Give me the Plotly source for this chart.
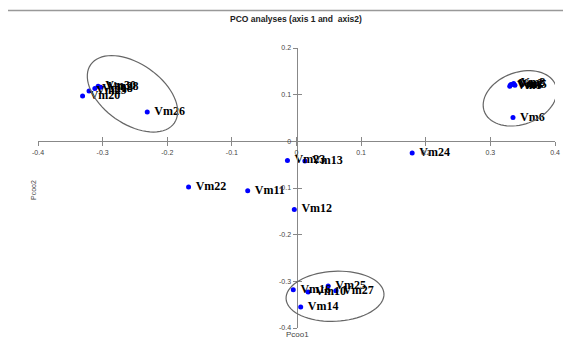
import math
import plotly.graph_objects as go

# ---------------- data ----------------
labels = ["Vm20", "Vm29", "Vm30", "Vm28", "Vm18", "Vm26",
          "Vm1", "Vm2", "Vm3", "Vm4", "Vm5", "Vm6",
          "Vm23", "Vm13", "Vm24", "Vm22", "Vm11", "Vm12",
          "Vm16", "Vm10", "Vm25", "Vm27", "Vm14"]
pco1 = [-0.331, -0.321, -0.307, -0.303, -0.312, -0.231,
        0.330, 0.333, 0.336, 0.331, 0.338, 0.335,
        -0.014, 0.013, 0.179, -0.167, -0.0755, -0.0034,
        -0.005, 0.018, 0.049, 0.061, 0.0065]
pco2 = [0.097, 0.108, 0.118, 0.116, 0.113, 0.063,
        0.118, 0.122, 0.124, 0.121, 0.120, 0.051,
        -0.041, -0.042, -0.025, -0.098, -0.106, -0.146,
        -0.318, -0.323, -0.310, -0.320, -0.355]

x_ticks = [-0.4, -0.3, -0.2, -0.1, 0, 0.1, 0.2, 0.3, 0.4]
x_tick_text = ["-0.4", "-0.3", "-0.2", "-0.1", "0", "0.1", "0.2", "0.3", "0.4"]
y_ticks = [-0.4, -0.3, -0.2, -0.1, 0, 0.1, 0.2]
y_tick_text = ["-0.4", "-0.3", "-0.2", "-0.1", "0", "0.1", "0.2"]

title_text = "PCO analyses (axis 1 and \u00a0axis2)"
x_title = "Pcoo1"
y_title = "Pcoo2"

# ---------------- layout geometry ----------------
W, H = 571, 338
OFF = 8  # page body offset of the rendered figure
# target plot area in screen pixels: x 38..555, y 48..328
ML = 38 - OFF
MT = 48 - OFF
MR = W - (555 - OFF)
MB = H - (328 - OFF)
XR = [-0.4, 0.4]
YR = [-0.4, 0.2]
pw = W - ML - MR
ph = H - MT - MB
sx = pw / (XR[1] - XR[0])
sy = ph / (YR[1] - YR[0])
x_axis_pos = (0 - YR[0]) / (YR[1] - YR[0])
y_axis_pos = (0 - XR[0]) / (XR[1] - XR[0])


def px_to_paper_x(p):
    return (p - OFF - ML) / pw


def px_to_paper_y(q):
    return (H - MB - (q - OFF)) / ph


# group ellipses: centre (data), semi-axes (px), angle (deg, screen ccw)
ellipses = [
    (-0.2538, 0.1018, 51, 30, -35),
    (0.3458, 0.0921, 38, 26, 20),
    (0.0596, -0.332, 49, 25, 3),
]


def ellipse_path(cx, cy, a, b, ang, n=72):
    t = math.radians(ang)
    pts = []
    for i in range(n):
        p = 2 * math.pi * i / n
        dx = (a * math.cos(p) * math.cos(t) - b * math.sin(p) * math.sin(t)) / sx
        dy = (a * math.cos(p) * math.sin(t) + b * math.sin(p) * math.cos(t)) / sy
        pts.append((cx + dx, cy + dy))
    d = "M %f,%f " % pts[0] + " ".join("L %f,%f" % q for q in pts[1:]) + " Z"
    return d


fig = go.Figure()
fig.add_trace(go.Scatter(
    x=pco1, y=pco2, mode="markers+text",
    text=["\u00a0" + s for s in labels],
    textposition="middle right",
    textfont=dict(family="Liberation Serif", size=12, color="black", weight="bold"),
    marker=dict(color="#0000FF", size=5),
    cliponaxis=False, showlegend=False, hoverinfo="skip",
))
# dummy trace for the overlay axes (inner half of cross ticks)
fig.add_trace(go.Scatter(x=[None], y=[None], xaxis="x2", yaxis="y2",
                         showlegend=False, hoverinfo="skip"))

axis_common = dict(showgrid=False, zeroline=False, automargin=False)
tickfont = dict(family="Liberation Sans", size=7, color="#444444")

fig.update_layout(
    width=W, height=H,
    margin=dict(l=ML, r=MR, t=MT, b=MB, autoexpand=False),
    paper_bgcolor="white", plot_bgcolor="white",
    xaxis=dict(range=XR, anchor="free", position=x_axis_pos,
               tickvals=x_ticks, ticktext=x_tick_text, tickfont=tickfont,
               ticks="outside", ticklen=4, tickcolor="#888888",
               showline=True, linecolor="#888888", linewidth=1, **axis_common),
    yaxis=dict(range=YR, anchor="free", position=y_axis_pos,
               tickvals=y_ticks, ticktext=y_tick_text, tickfont=tickfont,
               ticks="outside", ticklen=4, tickcolor="#888888",
               showline=True, linecolor="#888888", linewidth=1, **axis_common),
    xaxis2=dict(range=XR, overlaying="x", anchor="free", position=x_axis_pos,
                tickvals=x_ticks, showticklabels=False,
                ticks="inside", ticklen=4, tickcolor="#888888",
                showline=False, **axis_common),
    yaxis2=dict(range=YR, overlaying="y", anchor="free", position=y_axis_pos,
                tickvals=y_ticks, showticklabels=False,
                ticks="inside", ticklen=4, tickcolor="#888888",
                showline=False, **axis_common),
)

shapes = []
for (cx, cy, a, b, ang) in ellipses:
    shapes.append(dict(type="path", xref="x", yref="y",
                       path=ellipse_path(cx, cy, a, b, ang),
                       line=dict(color="#666666", width=1.2)))
# outer chart frame (left and top edges visible)
shapes.append(dict(type="rect", xref="paper", yref="paper",
                   x0=px_to_paper_x(7), x1=px_to_paper_x(W + 40),
                   y0=px_to_paper_y(H + 40), y1=px_to_paper_y(10.5),
                   line=dict(color="#999999", width=1.5)))
fig.update_layout(shapes=shapes)

fig.add_annotation(text=title_text, xref="paper", yref="paper",
                   x=px_to_paper_x(296), y=px_to_paper_y(19),
                   showarrow=False, xanchor="center", yanchor="middle",
                   font=dict(family="Liberation Sans", size=8.5, color="#222222", weight="bold"))
fig.add_annotation(text=x_title, xref="paper", yref="paper",
                   x=px_to_paper_x(297), y=px_to_paper_y(334),
                   showarrow=False, xanchor="center", yanchor="middle",
                   font=dict(family="Liberation Sans", size=8, color="#444444"))
fig.add_annotation(text=y_title, xref="paper", yref="paper",
                   x=px_to_paper_x(33), y=px_to_paper_y(190), textangle=-90,
                   showarrow=False, xanchor="center", yanchor="middle",
                   font=dict(family="Liberation Sans", size=7, color="#444444"))

fig.write_html("out.html")
